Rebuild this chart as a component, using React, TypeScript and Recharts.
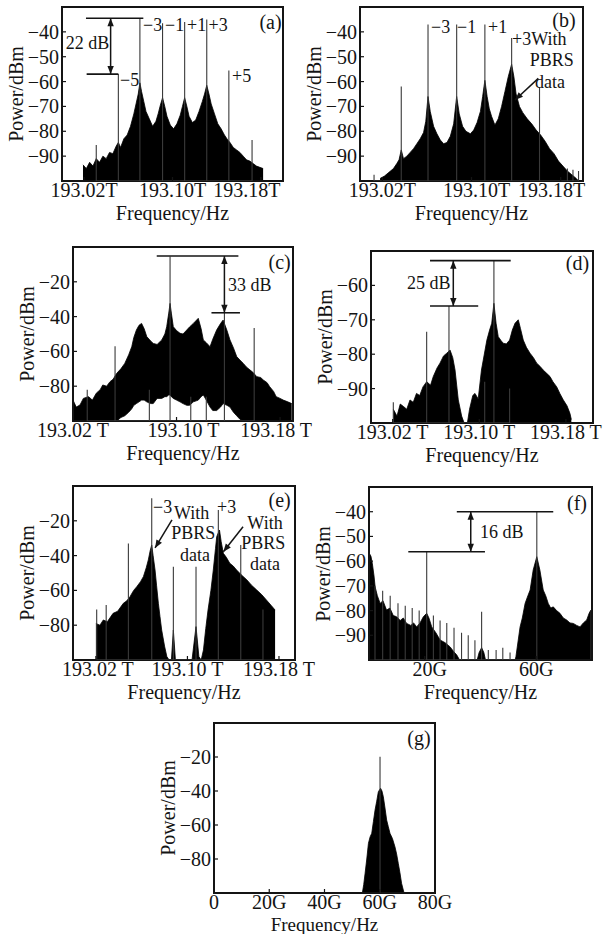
import React from "react";
import {
  ComposedChart,
  Area,
  Line,
  XAxis,
  YAxis,
  ReferenceLine,
  ReferenceArea,
} from "recharts";

const FONT = '"Liberation Serif", "Times New Roman", serif';
const INK = "#141414";

// (a) optical spectrum, four-tone
const aFreq = [193.019, 193.022, 193.025, 193.028, 193.031, 193.034, 193.037, 193.04, 193.043, 193.046,
  193.049, 193.051, 193.053, 193.056, 193.059, 193.062, 193.065, 193.067, 193.069, 193.0705,
  193.072, 193.074, 193.076, 193.079, 193.082, 193.085, 193.087, 193.089, 193.091, 193.093,
  193.095, 193.098, 193.101, 193.104, 193.107, 193.109, 193.111, 193.113, 193.115, 193.118,
  193.121, 193.124, 193.127, 193.129, 193.131, 193.133, 193.135, 193.138, 193.141, 193.144,
  193.147, 193.15, 193.152, 193.155, 193.158, 193.161, 193.164, 193.167, 193.17, 193.173,
  193.176, 193.179, 193.182]
const aUpper = [-93.5, -95, -92.5, -94, -91, -92.5, -90, -91, -88.5, -89,
  -86, -84.5, -86.5, -83, -81.5, -78, -73, -69, -65, -60.5,
  -64, -68, -72, -75, -78, -76, -73, -69.5, -66.5, -70,
  -74, -77.5, -79, -77, -73.5, -70, -66.5, -70, -74, -76.5,
  -75.5, -72, -68, -65, -61.5, -65, -69, -73, -77, -79,
  -81.5, -83.5, -84.5, -86.5, -87.5, -88.5, -90, -91.5, -92, -93,
  -94, -94.5, -95]
const aSpikeFreq = [193.031, 193.051, 193.0705, 193.091, 193.111, 193.131, 193.151, 193.172]
const aSpikeTop = [-85.5, -57, -34.5, -36.5, -36, -35, -55.5, -83.5]

// (b) with PBRS data on +3
const bFreq = [193.018, 193.022, 193.026, 193.03, 193.033, 193.035, 193.037, 193.039, 193.042, 193.045,
  193.048, 193.051, 193.054, 193.057, 193.059, 193.061, 193.063, 193.066, 193.069, 193.072,
  193.075, 193.078, 193.081, 193.084, 193.0867, 193.089, 193.092, 193.095, 193.099, 193.102,
  193.105, 193.108, 193.11, 193.112, 193.114, 193.116, 193.118, 193.121, 193.124, 193.127,
  193.13, 193.133, 193.136, 193.138, 193.14, 193.143, 193.146, 193.15, 193.154, 193.158,
  193.162, 193.166, 193.17, 193.174, 193.178, 193.182, 193.186, 193.19, 193.194, 193.196]
const bUpper = [-99, -98, -96.5, -95, -93, -91.5, -87.5, -91, -90, -88.5,
  -87, -85, -83, -80.5, -76, -66, -72, -78, -81, -83.5,
  -85, -84.5, -82, -77, -66, -73, -78, -80, -81, -79.5,
  -76.5, -72, -66, -59.5, -66, -71, -74, -77.5, -75, -70,
  -64, -58, -53, -58, -65, -70, -72.5, -75, -77, -79.5,
  -81.5, -84, -87, -89, -92, -94, -96, -97.5, -99, -100]
const bSpikeFreq = [193.0126, 193.037, 193.061, 193.0867, 193.112, 193.136, 193.161, 193.186, 193.191, 193.196]
const bSpikeTop = [-97.5, -62, -37, -37, -37, -42.5, -62.5, -95, -95.5, -96]

// (c)
const cFreq = [193.02, 193.0225, 193.0254, 193.028, 193.032, 193.035, 193.038, 193.041, 193.043, 193.046,
  193.0486, 193.051, 193.0538, 193.057, 193.06, 193.063, 193.0654, 193.067, 193.069, 193.071,
  193.073, 193.075, 193.077, 193.08, 193.082, 193.085, 193.0886, 193.091, 193.0924, 193.094,
  193.095, 193.096, 193.0975, 193.1, 193.1027, 193.105, 193.1079, 193.11, 193.113, 193.1168,
  193.119, 193.1207, 193.123, 193.1259, 193.128, 193.131, 193.134, 193.136, 193.139, 193.1413,
  193.144, 193.1465, 193.149, 193.1516, 193.154, 193.1568, 193.159, 193.162, 193.165, 193.167,
  193.17, 193.172, 193.175, 193.177, 193.18, 193.1825, 193.186, 193.189]
const cUpper = [-88, -92, -90.8, -87, -86, -88, -84, -82, -79.3, -80,
  -77.4, -76, -72.6, -70, -66.9, -62, -57.3, -52, -47.7, -45,
  -43.9, -47, -51.5, -54, -55.4, -56, -53.4, -50, -45.8, -38,
  -32.4, -38, -45.8, -48, -49.6, -50, -47.7, -46, -43.9, -41,
  -47, -53.4, -55, -57.3, -53, -47.7, -44, -42, -48, -53.4,
  -58, -63, -65, -66.9, -69, -70.7, -72, -74.5, -75, -76.4,
  -78, -80.3, -83, -86, -87, -88, -89, -90]
const cLower = [-100, -100, -100, -100, -100, -100, -100, -100, -100, -100,
  -100, -100, -100, -98, -97, -95, -93, -91, -90, -89,
  -88, -88, -89, -90, -90, -87, -87, -86, -86, -85,
  -85, -86, -87, -88, -89, -90, -91, -91, -89, -88,
  -86, -85, -88, -92, -94, -94, -92, -90, -91, -92,
  -95, -97, -99, -100, -100, -100, -100, -100, -100, -100,
  -100, -100, -100, -100, -100, -100, -100, -100]
const cSpikeFreq = [193.031, 193.0525, 193.079, 193.095, 193.111, 193.123, 193.137, 193.16]
const cSpikeTop = [-82, -57, -82, -5.5, -86, -86, -38, -46.5]

// (d)
const dFreq = [193.0206, 193.024, 193.027, 193.03, 193.033, 193.036, 193.039, 193.042, 193.045, 193.048,
  193.0514, 193.055, 193.0575, 193.061, 193.0637, 193.067, 193.07, 193.073, 193.0755, 193.0776,
  193.0806, 193.0837, 193.086, 193.089, 193.091, 193.094, 193.096, 193.099, 193.102, 193.107,
  193.1095, 193.1115, 193.1135, 193.1155, 193.1175, 193.12, 193.122, 193.125, 193.128, 193.1305,
  193.133, 193.136, 193.138, 193.1406, 193.1435, 193.1468, 193.15, 193.153, 193.156, 193.159,
  193.162, 193.1653, 193.168, 193.1715, 193.1745, 193.1776, 193.181, 193.1837, 193.185]
const dUpper = [-96, -98, -94.5, -95.2, -96, -93.3, -94, -91.4, -92, -89.5,
  -88, -89, -86.5, -84, -82.6, -80.5, -79.7, -78.8, -81, -84.6,
  -93.3, -98, -100, -100, -96, -92, -91.4, -93, -84.6, -75.9,
  -73, -71, -65.2, -71, -74.9, -76, -76.8, -77, -75.9, -73,
  -71, -70, -72.5, -75.9, -78, -79.7, -81, -82.6, -83.5, -84.6,
  -85.5, -86.5, -88, -89.5, -91.5, -93.3, -95, -97.2, -99]
const dSpikeFreq = [193.0206, 193.0514, 193.072, 193.105, 193.1135, 193.128]
const dSpikeTop = [-94, -73.5, -66, -88, -52.8, -90]

// (e)
const eFreq = [193.02, 193.0235, 193.0265, 193.03, 193.035, 193.039, 193.044, 193.047, 193.0498, 193.053,
  193.0557, 193.059, 193.0615, 193.064, 193.0658, 193.0675, 193.0688, 193.07, 193.0717, 193.073,
  193.0746, 193.076, 193.0775, 193.08, 193.082, 193.084, 193.086, 193.0877, 193.0895, 193.104,
  193.1075, 193.11, 193.112, 193.114, 193.116, 193.118, 193.1205, 193.1226, 193.1245, 193.1256,
  193.128, 193.1295, 193.1314, 193.134, 193.137, 193.14, 193.143, 193.147, 193.152, 193.156,
  193.1606, 193.165, 193.169, 193.173, 193.1766]
const eUpper = [-79, -80, -77, -78, -73.2, -72, -67.4, -66, -63.6, -60,
  -57.9, -55, -52.1, -47, -42.5, -37, -33.9, -40, -48.3, -57,
  -67.4, -75, -82.8, -92, -98, -100, -100, -82.8, -100, -100,
  -80.8, -98, -100, -94.2, -82, -71.3, -60, -48.3, -36, -29.1,
  -25.3, -32, -38.7, -41, -44.4, -46, -48.3, -51, -54, -57,
  -59.8, -62.5, -65.5, -68.5, -71.3]
const eSpikeFreq = [193.0207, 193.029, 193.0484, 193.0688, 193.0877, 193.1075, 193.127, 193.1466, 193.166]
const eSpikeTop = [-71, -68.4, -33, -7.1, -46.4, -46.4, -13.8, -33.9, -71]

// (f) electrical spectrum, GHz
const fFreq = [0.2, 0.7, 1.2, 1.8, 2.2, 3.0, 4.0, 5.0, 6.3, 7.5,
  8.7, 9.9, 11.2, 12.3, 13.5, 15.0, 16.0, 17.1, 18.3, 19.5,
  20.7, 21.5, 22.5, 24.0, 25.5, 27.3, 29.1, 30.3, 31.5, 32.5,
  38.8, 39.5, 40.4, 41.2, 41.8, 52.4, 52.7, 54.2, 55.0, 56.0,
  57.0, 57.8, 58.9, 60.2, 61.3, 62.5, 63.4, 64.3, 65.2, 66.1,
  67.3, 68.5, 69.7, 70.9, 72.1, 73.3, 74.5, 75.7, 76.9, 78.1,
  79.0, 79.6]
const fUpper = [-57, -58, -61, -66, -70.4, -74, -77.1, -76, -79.8, -79,
  -82, -82.5, -84, -83, -85.2, -86, -85, -86.6, -85, -82.5,
  -81.1, -83, -86.6, -89, -91.9, -93, -94.7, -96.5, -98, -100,
  -100, -97, -95, -97, -100, -100, -98.7, -86.6, -83, -77.1,
  -74, -71.7, -63.6, -58.2, -63.6, -71.7, -74, -77.1, -79, -78.5,
  -80, -81.1, -83, -83.8, -85, -85.2, -86, -86.6, -85, -83.8,
  -81, -79.8]
const fSpikeFreq = [2.15, 4.9, 7.6, 10.4, 13.0, 15.5, 18.0, 20.7, 23.1, 25.5, 27.9, 30.5, 33.2, 35.6, 38.0, 40.4, 42.8, 45.6, 48.0, 50.6, 60.2]
const fSpikeTop = [-70, -72, -74, -77, -78, -79, -80, -56.2, -82, -84, -85, -87, -89, -90, -92, -80.5, -96, -96, -95, -97, -40]

// (g)
const gFreq = [53.7, 54.2, 54.7, 55.3, 55.9, 56.5, 57.1, 57.7, 58.3, 58.9, 59.5, 60.3, 60.8, 61.3, 61.9, 62.5, 63.1, 63.7, 64.6, 65.5, 66.1, 66.7, 67.3, 67.9, 68.8]
const gUpper = [-100, -95, -88.4, -80, -70.8, -67, -64.9, -58, -51.2, -46, -40.4, -38.4, -40, -43.4, -50, -57.1, -61, -64.9, -68, -72.8, -77, -82.5, -88, -94.3, -100]
const gSpikeFreq = [60.1]
const gSpikeTop = [-19.8]

const thzTicks = [193.02, 193.1, 193.18]

const minus = (v: number) => (v < 0 ? `\u2212${Math.abs(v)}` : `${v}`)
const thz = (sp: string) => (v: number) => `${v.toFixed(2)}${sp}T`
const ghz = (v: number) => (v === 0 ? "0" : `${v}G`)

type Seg = { x1: number; x2: number; y: number }
type Arr = { x1: number; y1: number; x2: number; y2: number; both?: boolean }
type Txt = { t: string; x: number; y: number; left?: boolean; size?: number }
type Panel = {
  id: string
  frame: { left: number; top: number; w: number; h: number }
  xDomain: [number, number]
  yDomain: [number, number]
  xTicks: number[]
  yTicks: number[]
  xFmt: (v: number) => string
  xShift?: Record<string, number>
  freq: number[]
  upper: number[]
  lower?: number[]
  spikeFreq: number[]
  spikeTop: number[]
  bars?: Seg[]
  arrows?: Arr[]
  texts: Txt[]
}

const panels: Panel[] = [
  {
    id: "a", frame: { left: 62, top: 7, w: 221, h: 174 },
    xDomain: [193.0, 193.2], yDomain: [-100, -30], xTicks: thzTicks, yTicks: [-90, -80, -70, -60, -50, -40],
    xFmt: thz(""), xShift: { "193.18": -14 },
    freq: aFreq, upper: aUpper, spikeFreq: aSpikeFreq, spikeTop: aSpikeTop,
    bars: [{ x1: 193.0217, x2: 193.0736, y: -34.5 }, { x1: 193.0223, x2: 193.051, y: -57 }],
    arrows: [{ x1: 193.044, y1: -34.5, x2: 193.044, y2: -57, both: true }],
    texts: [
      { t: "22 dB", x: 87.5, y: 43 }, { t: "\u22123", x: 143, y: 25, left: true },
      { t: "\u22121", x: 165, y: 25, left: true }, { t: "+1", x: 187, y: 25, left: true },
      { t: "+3", x: 208.5, y: 25, left: true }, { t: "\u22125", x: 120, y: 80, left: true },
      { t: "+5", x: 232, y: 76, left: true }, { t: "(a)", x: 270.5, y: 21.5, size: 20 },
    ],
  },
  {
    id: "b", frame: { left: 360, top: 7, w: 223, h: 174 },
    xDomain: [193.0, 193.2], yDomain: [-100, -30], xTicks: thzTicks, yTicks: [-90, -80, -70, -60, -50, -40],
    xFmt: thz(""), xShift: { "193.1": 5, "193.18": -9 },
    freq: bFreq, upper: bUpper, spikeFreq: bSpikeFreq, spikeTop: bSpikeTop,
    arrows: [{ x1: 193.1599, y1: -58.7, x2: 193.139, y2: -67.4 }],
    texts: [
      { t: "\u22123", x: 431, y: 27, left: true }, { t: "\u22121", x: 457, y: 27, left: true },
      { t: "+1", x: 488, y: 27, left: true }, { t: "+3With", x: 512, y: 38.5, left: true },
      { t: "PBRS", x: 551.7, y: 60 }, { t: "data", x: 550, y: 82 }, { t: "(b)", x: 564, y: 20, size: 20 },
    ],
  },
  {
    id: "c", frame: { left: 73, top: 247, w: 220, h: 174 },
    xDomain: [193.02, 193.19], yDomain: [-100, 0], xTicks: thzTicks, yTicks: [-80, -60, -40, -20],
    xFmt: thz(" "), xShift: { "193.1": 7, "193.18": -4 },
    freq: cFreq, upper: cUpper, lower: cLower, spikeFreq: cSpikeFreq, spikeTop: cSpikeTop,
    bars: [{ x1: 193.0847, x2: 193.1478, y: -5.2 }, { x1: 193.127, x2: 193.149, y: -37.8 }],
    arrows: [{ x1: 193.137, y1: -5.2, x2: 193.137, y2: -37.8, both: true }],
    texts: [{ t: "33 dB", x: 249.7, y: 285 }, { t: "(c)", x: 279.7, y: 262, size: 20 }],
  },
  {
    id: "d", frame: { left: 371, top: 251, w: 222, h: 172 },
    xDomain: [193.0, 193.205], yDomain: [-100, -50], xTicks: thzTicks, yTicks: [-90, -80, -70, -60],
    xFmt: thz(" "),
    freq: dFreq, upper: dUpper, spikeFreq: dSpikeFreq, spikeTop: dSpikeTop,
    bars: [{ x1: 193.0545, x2: 193.129, y: -52.8 }, { x1: 193.0545, x2: 193.099, y: -66 }],
    arrows: [{ x1: 193.076, y1: -52.8, x2: 193.076, y2: -66, both: true }],
    texts: [{ t: "25 dB", x: 428.8, y: 283.3 }, { t: "(d)", x: 577.5, y: 263.3, size: 20 }],
  },
  {
    id: "e", frame: { left: 73, top: 486, w: 222, h: 174 },
    xDomain: [193.0, 193.194], yDomain: [-100, 0], xTicks: thzTicks, yTicks: [-80, -60, -40, -20],
    xFmt: thz(" "), xShift: { "193.02": 2 },
    freq: eFreq, upper: eUpper, spikeFreq: eSpikeFreq, spikeTop: eSpikeTop,
    arrows: [
      { x1: 193.0865, y1: -19.5, x2: 193.0717, y2: -35.6 },
      { x1: 193.1486, y1: -23.4, x2: 193.1314, y2: -37.8 },
    ],
    texts: [
      { t: "\u22123", x: 153, y: 507, left: true }, { t: "With", x: 174, y: 513, left: true },
      { t: "PBRS", x: 193.3, y: 533.3 }, { t: "data", x: 195, y: 555 },
      { t: "+3", x: 217, y: 506.7, left: true }, { t: "With", x: 265, y: 523.3 },
      { t: "PBRS", x: 263.3, y: 542.7 }, { t: "data", x: 265, y: 564.3 },
      { t: "(e)", x: 279.7, y: 500, size: 20 },
    ],
  },
  {
    id: "f", frame: { left: 369, top: 487, w: 223, h: 173 },
    xDomain: [0, 80], yDomain: [-100, -30], xTicks: [20, 60], yTicks: [-90, -80, -70, -60, -50, -40],
    xFmt: ghz, xShift: { "20": 5 },
    freq: fFreq, upper: fUpper, spikeFreq: fSpikeFreq, spikeTop: fSpikeTop,
    bars: [{ x1: 31.5, x2: 66.1, y: -40 }, { x1: 14.1, x2: 41.6, y: -56.2 }],
    arrows: [{ x1: 36.5, y1: -40, x2: 36.5, y2: -56.2, both: true }],
    texts: [{ t: "16 dB", x: 501.7, y: 532.3 }, { t: "(f)", x: 577, y: 503, size: 20 }],
  },
  {
    id: "g", frame: { left: 214, top: 723, w: 221, h: 170 },
    xDomain: [0, 80], yDomain: [-100, 0], xTicks: [0, 20, 40, 60, 80], yTicks: [-80, -60, -40, -20],
    xFmt: ghz,
    freq: gFreq, upper: gUpper, spikeFreq: gSpikeFreq, spikeTop: gSpikeTop,
    texts: [{ t: "(g)", x: 419, y: 738.3, size: 20 }],
  },
]

const head = (x: number, y: number, fx: number, fy: number) => {
  const a = Math.atan2(y - fy, x - fx)
  const L = 8, W = 3.2
  const bx = x - L * Math.cos(a), by = y - L * Math.sin(a)
  const pts = `${x},${y} ${bx + W * Math.sin(a)},${by - W * Math.cos(a)} ${bx - W * Math.sin(a)},${by + W * Math.cos(a)}`
  return <polygon points={pts} fill={INK} />
}

const arrowShape = (both: boolean) => (p: any) => (
  <g>
    <line x1={p.x1} y1={p.y1} x2={p.x2} y2={p.y2} stroke={INK} strokeWidth={1.5} />
    {head(p.x2, p.y2, p.x1, p.y1)}
    {both ? head(p.x1, p.y1, p.x2, p.y2) : null}
  </g>
)

const AX = 62
const MT = 4
const MR = 40
const XH = 44

function Spectrum({ p }: { p: Panel }) {
  const floor = p.yDomain[0]
  const rows = p.freq.map((x, i) => ({ x, band: [p.lower ? p.lower[i] : floor, p.upper[i]] }))
  const spikes = p.spikeFreq.flatMap((x, i) => [
    { x, s: floor },
    { x, s: p.spikeTop[i] },
    { x, s: floor },
  ])

  const xTick = (t: any) => {
    const v = t.payload.value
    const dx = (p.xShift && p.xShift[String(v)]) || 0
    return (
      <g>
        <line x1={t.x} x2={t.x} y1={t.y} y2={t.y - 4} stroke={INK} strokeWidth={1.2} />
        <text x={t.x + dx} y={t.y + 16} textAnchor="middle" fontSize={20} fontFamily={FONT} fill={INK}>
          {p.xFmt(v)}
        </text>
      </g>
    )
  }
  const yTick = (t: any) => (
    <g>
      <line x1={t.x} x2={t.x + 4} y1={t.y} y2={t.y} stroke={INK} strokeWidth={1.2} />
      <text x={t.x - 3} y={t.y + 7} textAnchor="end" fontSize={20} fontFamily={FONT} fill={INK}>
        {minus(t.payload.value)}
      </text>
    </g>
  )

  return (
    <div style={{ position: "absolute", left: p.frame.left - AX, top: p.frame.top - MT }}>
      <ComposedChart
        width={AX + p.frame.w + MR}
        height={MT + p.frame.h + XH}
        margin={{ top: MT, right: MR, bottom: 0, left: 0 }}
        data={rows}
      >
        <XAxis
          dataKey="x"
          type="number"
          domain={p.xDomain}
          ticks={p.xTicks}
          interval={0}
          allowDataOverflow
          axisLine={false}
          tickLine={false}
          tickSize={0}
          tickMargin={0}
          height={XH}
          tick={xTick}
        />
        <YAxis
          type="number"
          domain={p.yDomain}
          ticks={p.yTicks}
          interval={0}
          allowDataOverflow
          axisLine={false}
          tickLine={false}
          tickSize={0}
          tickMargin={0}
          width={AX}
          tick={yTick}
        />
        <Area
          dataKey="band"
          type="linear"
          fill="#000"
          fillOpacity={1}
          stroke="#000"
          strokeWidth={0.8}
          isAnimationActive={false}
        />
        <Line
          data={spikes}
          dataKey="s"
          type="linear"
          stroke="#3a3a3a"
          strokeWidth={1.1}
          dot={false}
          isAnimationActive={false}
        />
        {(p.bars || []).map((b, i) => (
          <ReferenceLine
            key={`b${i}`}
            segment={[{ x: b.x1, y: b.y }, { x: b.x2, y: b.y }]}
            stroke={INK}
            strokeWidth={1.6}
            ifOverflow="visible"
          />
        ))}
        {(p.arrows || []).map((a, i) => (
          <ReferenceLine
            key={`a${i}`}
            segment={[{ x: a.x1, y: a.y1 }, { x: a.x2, y: a.y2 }]}
            shape={arrowShape(!!a.both)}
            ifOverflow="visible"
          />
        ))}
        <ReferenceArea
          x1={p.xDomain[0]}
          x2={p.xDomain[1]}
          y1={p.yDomain[0]}
          y2={p.yDomain[1]}
          fill="none"
          stroke={INK}
          strokeWidth={2}
          ifOverflow="visible"
        />
      </ComposedChart>
    </div>
  )
}

const abs = (x: number, y: number, size: number, left: boolean, extra?: React.CSSProperties): React.CSSProperties => ({
  position: "absolute",
  left: x,
  top: y,
  fontSize: size,
  lineHeight: 1,
  whiteSpace: "nowrap",
  transform: left ? "translate(0,-50%)" : "translate(-50%,-50%)",
  ...extra,
})

export default function App() {
  return (
    <div
      style={{
        position: "absolute",
        left: 0,
        top: 0,
        width: 603,
        height: 934,
        background: "#fff",
        fontFamily: FONT,
        color: INK,
        overflow: "hidden",
      }}
    >
      {panels.map((p) => (
        <Spectrum key={p.id} p={p} />
      ))}
      {panels.map((p) => {
        const want = p.frame.top + p.frame.h + 32
        const ty = Math.min(want, 924)
        return (
          <React.Fragment key={`t${p.id}`}>
            <div
              style={abs(p.frame.left - 46, p.frame.top + p.frame.h / 2, 20, false, {
                transform: "translate(-50%,-50%) rotate(-90deg)",
              })}
            >
              Power/dBm
            </div>
            <div style={abs(p.frame.left + p.frame.w / 2, ty, ty < want ? 19 : 20, false)}>
              Frequency/Hz
            </div>
            {p.texts.map((t, i) => (
              <div key={i} style={abs(t.x, t.y, t.size || 18, !!t.left)}>
                {t.t}
              </div>
            ))}
          </React.Fragment>
        )
      })}
    </div>
  )
}
